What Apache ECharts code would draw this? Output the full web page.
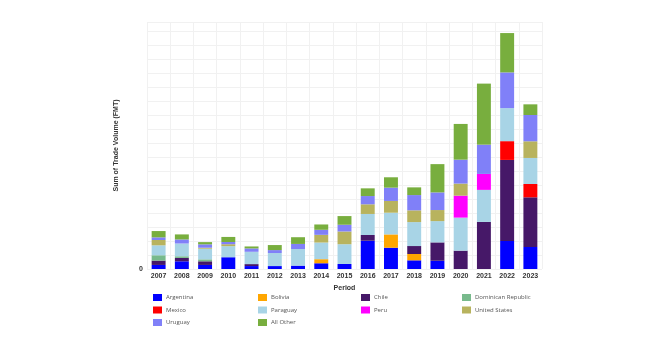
<!DOCTYPE html>
<html>
<head>
<meta charset="utf-8">
<script src="https://cdn.jsdelivr.net/npm/echarts@6/dist/echarts.min.js"></script>
<style>
html,body{margin:0;padding:0;background:#fff;}
#chart{width:648px;height:349px;}
</style>
</head>
<body>
<div id="chart"></div>
<script>
const years = ['2007','2008','2009','2010','2011','2012','2013','2014','2015','2016','2017','2018','2019','2020','2021','2022','2023'];
const seriesNames = ['Argentina','Bolivia','Chile','Dominican Republic','Mexico','Paraguay','Peru','United States','Uruguay','All Other'];
const argentina   = [2.9, 5.5, 2.9, 8.4, 2.1, 2.1, 2.4, 4.1, 3.6, 20.2, 15.2, 6.2, 5.9, 0, 0, 20.0, 15.7];
const bolivia     = [0, 0, 0, 0, 0, 0, 0, 2.9, 0, 0, 9.5, 4.5, 0, 0, 0, 0, 0];
const chile       = [3.1, 2.4, 2.6, 0, 1.4, 0, 0, 0, 0, 4.1, 0, 5.7, 13.1, 13.1, 33.6, 57.9, 35.5];
const dominican   = [3.8, 1.2, 1.4, 0, 0, 0, 0, 0, 0, 0, 0, 0, 0, 0, 0, 0, 0];
const mexico      = [0, 0, 0, 0, 0, 0, 0, 0, 0, 0, 0, 0, 0, 0, 0, 13.4, 9.5];
const paraguay    = [7.1, 9.1, 7.6, 7.9, 8.8, 9.3, 11.9, 11.9, 14.1, 15.0, 15.5, 17.1, 15.2, 23.6, 22.9, 23.6, 18.6];
const peru        = [0, 0, 0, 0, 0, 0, 0, 0, 0, 0, 0, 0, 0, 15.7, 11.4, 0, 0];
const unitedStates= [3.8, 0, 0.7, 1.4, 0, 0, 0, 5.5, 9.1, 6.9, 8.4, 8.4, 7.9, 8.6, 0, 0, 11.9];
const uruguay     = [1.9, 2.9, 2.4, 1.6, 2.4, 2.1, 3.6, 3.6, 4.8, 5.9, 9.5, 10.9, 12.6, 17.1, 20.9, 25.5, 18.8];
const allOther    = [4.5, 3.6, 1.6, 3.6, 1.4, 3.6, 4.8, 3.8, 6.2, 5.5, 7.4, 5.5, 20.2, 25.5, 43.6, 28.1, 7.6];
const yTickLabels = ['0'];

const seriesData = [argentina, bolivia, chile, dominican, mexico, paraguay, peru, unitedStates, uruguay, allOther];
const colors = ['#0000ff','#ffa600','#461868','#78ba8c','#ff0000','#a8d4e6','#ff00ff','#b8b35e','#8080f8','#78ae3e'];

// legend columns (row-major order of the names, 4 per row)
const legendCols = [0,1,2,3].map(c => seriesNames.filter((_, i) => i % 4 === c));
const legendLefts = [153, 258, 361, 462];

const chart = echarts.init(document.getElementById('chart'), null, {renderer:'canvas'});
chart.setOption({
  animation:false,
  backgroundColor:'#ffffff',
  color: colors,
  grid:{left:147, right:106, top:22, bottom:80},
  legend: legendCols.map((col, c) => ({
    data: col,
    orient:'vertical',
    left:legendLefts[c], top:294, padding:0,
    itemWidth:9, itemHeight:7, itemGap:5.5,
    icon:'rect',
    textStyle:{fontSize:6, color:'#555', fontFamily:'Open Sans', padding:[0,0,0,-1]}
  })),
  xAxis:{
    type:'category', data: years,
    name:'Period', nameLocation:'middle', nameGap:12,
    nameTextStyle:{fontSize:7, fontWeight:'bold', color:'#333', fontFamily:'Liberation Sans'},
    axisLine:{show:false}, axisTick:{show:false},
    axisLabel:{fontSize:7, fontWeight:'bold', color:'#333', margin:4, fontFamily:'Liberation Sans'},
    splitLine:{show:true, lineStyle:{color:'#f1f1f1', width:1}}
  },
  yAxis:{
    type:'value', min:0, max:176.4, interval:10,
    name:'Sum of Trade Volume (FMT)', nameLocation:'middle', nameGap:27,
    nameTextStyle:{fontSize:7, fontWeight:'bold', color:'#333', fontFamily:'Liberation Sans'},
    axisLine:{show:false}, axisTick:{show:false},
    axisLabel:{fontSize:7, fontWeight:'bold', color:'#333', margin:4, fontFamily:'Liberation Sans',
      formatter: v => v === 0 ? yTickLabels[0] : ''},
    splitLine:{show:true, lineStyle:{color:'#f1f1f1', width:1}}
  },
  series: seriesNames.map((n,i)=>({
    name:n, type:'bar', stack:'total', barWidth:'60%',
    data: seriesData[i],
    itemStyle:{color:colors[i]}
  }))
});
</script>
</body>
</html>
